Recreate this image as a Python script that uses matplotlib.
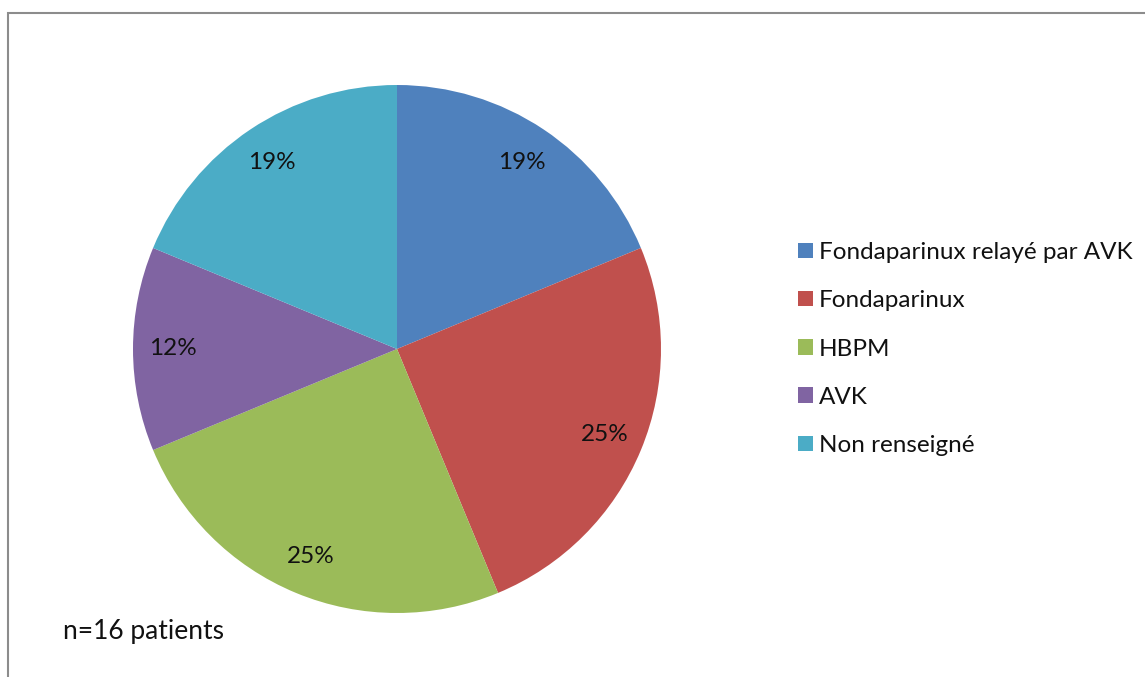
import matplotlib
matplotlib.use("Agg")
import matplotlib.pyplot as plt
from matplotlib.patches import Patch, Rectangle

plt.rcParams['font.family'] = ['Lato', 'DejaVu Sans']

# data (n=16 patients)
categories = ['Fondaparinux relayé par AVK', 'Fondaparinux', 'HBPM', 'AVK', 'Non renseigné']
counts = [3, 4, 4, 2, 3]
pct_labels = ['19%', '25%', '25%', '12%', '19%']
colors = ['#4F81BD', '#C0504D', '#9BBB59', '#8064A2', '#4BACC6']

W, H = 1145, 677
fig = plt.figure(figsize=(W / 100, H / 100), dpi=100)

# grey chart frame (right and bottom sides run off the picture)
fig.patches.append(Rectangle((7.5 / W, -0.1), 1.2, 1 - 12.5 / H + 0.1,
                             transform=fig.transFigure, fill=False,
                             edgecolor='#8c8c8c', linewidth=1.5))

# pie: centre (397, 349), radius 264 px
r = 264
ax = fig.add_axes([(397 - r) / W, (H - 349 - r) / H, 2 * r / W, 2 * r / H])
wedges, texts = ax.pie(counts, colors=colors, startangle=90, counterclock=False,
                       labels=pct_labels, labeldistance=0.85,
                       wedgeprops=dict(linewidth=0), radius=1)
for t in texts:
    t.set_ha('center')
    t.set_va('center')
    t.set_fontsize(17.5)
    t.set_color('#111111')
ax.set_xlim(-1, 1)
ax.set_ylim(-1, 1)
ax.set_aspect('equal')
ax.axis('off')

handles = [Patch(facecolor=c, edgecolor='none') for c in colors]
fig.legend(handles, categories, loc='center left',
           bbox_to_anchor=(798 / W, (H - 349) / H), frameon=False,
           fontsize=17.5, handlelength=0.6, handleheight=0.6, borderpad=0,
           borderaxespad=0, handletextpad=0.25, labelspacing=1.12,
           labelcolor='#111111')

fig.text(63 / W, (H - 632) / H, 'n=16 patients', fontsize=19,
         ha='left', va='center', color='#111111')

fig.savefig('out.png', dpi=100)
